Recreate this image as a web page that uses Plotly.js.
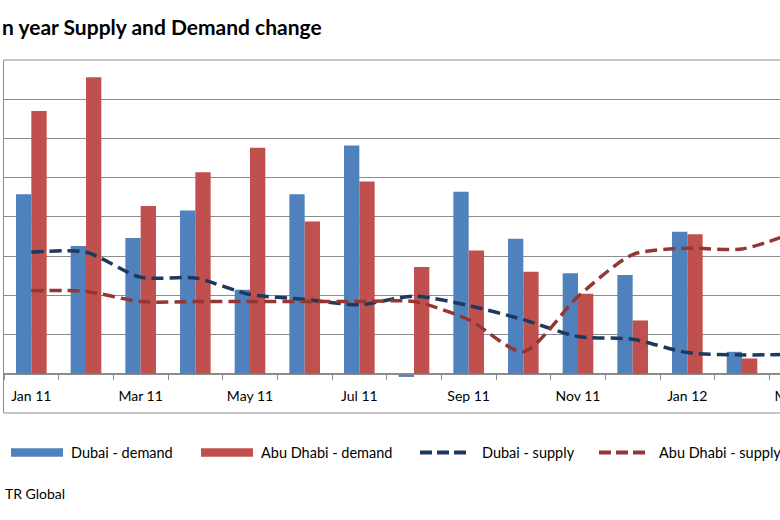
<!DOCTYPE html>
<html>
<head>
<meta charset="utf-8">
<script src="https://cdn.plot.ly/plotly-3.0.1.min.js"></script>
<style>
  html, body { margin: 0; padding: 0; width: 780px; height: 520px; overflow: hidden; background: #fff; }
  #chart { position: absolute; left: -60px; top: 0; width: 900px; height: 520px; }
</style>
</head>
<body>
<div id="chart"></div>
<script>
// ---- data (year-on-year % change) ----
const months = ["Jan 11","Feb 11","Mar 11","Apr 11","May 11","Jun 11","Jul 11","Aug 11",
                "Sep 11","Oct 11","Nov 11","Dec 11","Jan 12","Feb 12","Mar 12"];
const tickLabels = ["Jan 11","","Mar 11","","May 11","","Jul 11","","Sep 11","","Nov 11","","Jan 12","","Mar 12"];
const dubaiDemand    = [22.9, 16.3, 17.3, 20.8, 10.7, 22.9, 29.1, -0.4, 23.2, 17.2, 12.8, 12.6, 18.1, 2.8, null];
const abuDhabiDemand = [33.5, 37.8, 21.4, 25.7, 28.8, 19.4, 24.5, 13.6, 15.7, 13.0, 10.2, 6.8, 17.8, 1.95, null];
const dubaiSupply    = [15.5, 15.5, 12.3, 12.2, 10.1, 9.5, 8.8, 9.9, 8.7, 6.9, 4.75, 4.4, 2.7, 2.4, 2.5];
const abuDhabiSupply = [10.6, 10.5, 9.2, 9.2, 9.2, 9.2, 9.2, 9.2, 6.9, 2.8, 9.85, 15.2, 16.0, 15.9, 18.1];
const seriesNames = ["Dubai - demand","Abu Dhabi - demand","Dubai - supply","Abu Dhabi - supply"];
const titleText = "n year Supply and Demand change";   // visible part of the cropped title
const sourceText = "TR Global";                         // visible part of the cropped source line

// ---- styling ----
const FONT = "Lato, 'Open Sans', 'Noto Sans', sans-serif";
const C_BLUE = "#4F81BD", C_RED = "#C0504D", C_NAVY = "#1B3A5E", C_DRED = "#943634";
const GRID = "#8C8C8C";
const Y_MIN = -5, Y_MAX = 40;

// pixel helpers (screen coords -> paper fractions)
const PL = 4, PR = 824, PT = 60, PB = 413;
const fx = sx => (sx - PL) / (PR - PL);
const fy = sy => (PB - sy) / (PB - PT);

const traces = [
  { type: "bar", name: seriesNames[0], x: months, y: dubaiDemand, marker: { color: C_BLUE }, showlegend: false },
  { type: "bar", name: seriesNames[1], x: months, y: abuDhabiDemand, marker: { color: C_RED }, showlegend: false },
  { type: "scatter", mode: "lines", name: seriesNames[2], x: months, y: dubaiSupply,
    line: { color: C_NAVY, width: 3.5, dash: "12px,6px", shape: "spline", smoothing: 0.7 }, showlegend: false },
  { type: "scatter", mode: "lines", name: seriesNames[3], x: months, y: abuDhabiSupply,
    line: { color: C_DRED, width: 3.5, dash: "12px,6px", shape: "spline", smoothing: 0.7 }, showlegend: false }
];

// manual Excel-style legend
const legendY = 452.5;
const legendItems = [
  { kind: "rect", color: C_BLUE, x0: 11, x1: 63, tx: 69, text: seriesNames[0] },
  { kind: "rect", color: C_RED,  x0: 201, x1: 253, tx: 259, text: seriesNames[1] },
  { kind: "dash", color: C_NAVY, x0: 420, x1: 468, tx: 480, text: seriesNames[2] },
  { kind: "dash", color: C_DRED, x0: 599, x1: 647, tx: 657, text: seriesNames[3] }
];

const shapes = [
  { type: "line", xref: "paper", yref: "paper", x0: 0, x1: 1, y0: 1, y1: 1, line: { color: GRID, width: 1 } },
  { type: "line", xref: "paper", yref: "paper", x0: 0, x1: 1, y0: 0, y1: 0, line: { color: GRID, width: 1 } }
];
const annotations = [
  { text: "<b>" + titleText + "</b>", xref: "paper", yref: "paper", x: fx(0), y: fy(26),
    xanchor: "left", yanchor: "middle", showarrow: false, font: { family: FONT, size: 21, color: "#000" } },
  { text: sourceText, xref: "paper", yref: "paper", x: fx(3), y: fy(493),
    xanchor: "left", yanchor: "middle", showarrow: false, font: { family: FONT, size: 14, color: "#000" } }
];
legendItems.forEach(it => {
  if (it.kind === "rect") {
    shapes.push({ type: "rect", xref: "paper", yref: "paper", x0: fx(it.x0), x1: fx(it.x1),
      y0: fy(legendY - 4.2), y1: fy(legendY + 4.2), fillcolor: it.color, line: { width: 0 } });
  } else {
    shapes.push({ type: "line", xref: "paper", yref: "paper", x0: fx(it.x0), x1: fx(it.x1),
      y0: fy(legendY), y1: fy(legendY), line: { color: it.color, width: 4, dash: "12px,5px" } });
  }
  annotations.push({ text: it.text, xref: "paper", yref: "paper", x: fx(it.tx), y: fy(legendY),
    xanchor: "left", yanchor: "middle", showarrow: false, font: { family: FONT, size: 14.5, color: "#000" } });
});

const layout = {
  width: 900, height: 520,
  margin: { l: 64, r: 16, t: 60, b: 107 },
  paper_bgcolor: "#fff", plot_bgcolor: "#fff",
  font: { family: FONT, size: 14, color: "#000" },
  barmode: "group", bargap: 0.44, bargroupgap: 0,
  showlegend: false,
  xaxis: {
    type: "category", categoryorder: "array", categoryarray: months,
    tickvals: months, ticktext: tickLabels, tickson: "boundaries", tickangle: 0,
    ticks: "outside", ticklen: 5, tickcolor: GRID, tickwidth: 1, ticklabelstandoff: 9,
    showline: true, linecolor: GRID, linewidth: 1, showgrid: false, zeroline: false,
    anchor: "free", position: (0 - Y_MIN) / (Y_MAX - Y_MIN),
    tickfont: { family: FONT, size: 14, color: "#000" },
    range: [-0.5, months.length - 0.5], fixedrange: true
  },
  yaxis: {
    range: [Y_MIN, Y_MAX], dtick: 5, tick0: 0, showticklabels: false,
    showgrid: true, gridcolor: GRID, gridwidth: 1, zeroline: false,
    showline: true, linecolor: GRID, linewidth: 1, ticks: "", fixedrange: true
  },
  shapes: shapes,
  annotations: annotations
};

Plotly.newPlot("chart", traces, layout, { displayModeBar: false, staticPlot: true });
</script>
</body>
</html>
